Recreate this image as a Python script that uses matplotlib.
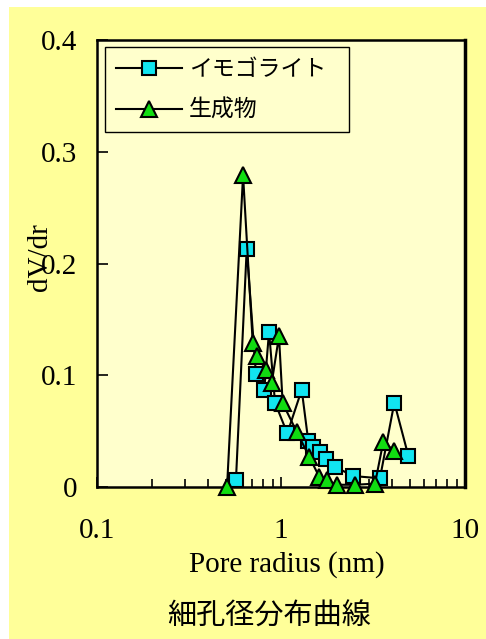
import matplotlib
matplotlib.use("Agg")
from matplotlib import pyplot as plt
from matplotlib.patches import Rectangle
from matplotlib.ticker import LogLocator, FixedLocator, FixedFormatter

# イモゴライト (squares)
radius_imo = [0.569, 0.651, 0.731, 0.811, 0.861, 0.928, 1.082, 1.296, 1.407,
              1.498, 1.62, 1.757, 1.966, 2.47, 3.45, 4.13, 4.92]
dvdr_imo = [0.006, 0.213, 0.101, 0.087, 0.139, 0.0755, 0.048, 0.087, 0.041,
            0.036, 0.031, 0.025, 0.018, 0.0098, 0.0078, 0.0755, 0.028]

# 生成物 (triangles)
radius_prod = [0.509, 0.622, 0.702, 0.743, 0.826, 0.890, 0.975, 1.021, 1.217,
               1.425, 1.615, 1.785, 2.007, 2.525, 3.243, 3.597, 4.113]
dvdr_prod = [0.0, 0.279, 0.129, 0.117, 0.105, 0.093, 0.135, 0.075, 0.0495,
             0.027, 0.009, 0.006, 0.002, 0.002, 0.003, 0.0405, 0.0325]

xticks = [0.1, 1, 10]
xtick_labels = ["0.1", "1", "10"]
yticks = [0, 0.1, 0.2, 0.3, 0.4]
ytick_labels = ["0", "0.1", "0.2", "0.3", "0.4"]

serif = "Liberation Serif"
cjk = ["Noto Sans CJK JP", "DejaVu Sans"]

W, H = 486, 639
fig = plt.figure(figsize=(W / 100, H / 100), dpi=100)
fig.patch.set_facecolor("white")
# fundo amarelo
fig.add_artist(Rectangle((9 / W, 0), 1 - 9 / W, (H - 7) / H, transform=fig.transFigure,
                         facecolor="#FFFF99", edgecolor="none", zorder=-10))

ax = fig.add_axes([97 / W, 1 - 487 / H, (465 - 97) / W, (487 - 40) / H])
ax.set_facecolor("#FFFFCC")

ax.plot(radius_imo, dvdr_imo, color="black", linewidth=1.5, marker="s",
        markersize=10, markerfacecolor="#11E5F0", markeredgecolor="black",
        markeredgewidth=1.5, clip_on=False, label="イモゴライト", zorder=3)
ax.plot(radius_prod, dvdr_prod, color="black", linewidth=1.5, marker="^",
        markersize=12, markerfacecolor="#11DD11", markeredgecolor="black",
        markeredgewidth=1.5, clip_on=False, label="生成物", zorder=4)

ax.set_xscale("log")
ax.set_xlim(0.1, 10)
ax.set_ylim(0, 0.4)

ax.xaxis.set_major_locator(FixedLocator(xticks))
ax.xaxis.set_major_formatter(FixedFormatter(xtick_labels))
ax.xaxis.set_minor_locator(LogLocator(base=10, subs=range(2, 10)))
ax.yaxis.set_major_locator(FixedLocator(yticks))
ax.yaxis.set_major_formatter(FixedFormatter(ytick_labels))

ax.tick_params(axis="x", which="major", direction="in", length=7, width=1.2, pad=22)
ax.tick_params(axis="x", which="minor", direction="in", length=6, width=1.2)
ax.tick_params(axis="y", which="major", direction="in", length=8, width=1.2, pad=14,
               left=True, right=False)
ax.tick_params(top=False, right=False)
for lab in ax.get_xticklabels() + ax.get_yticklabels():
    lab.set_fontfamily(serif)
    lab.set_fontsize(21)

for s in ax.spines.values():
    s.set_linewidth(1.8)
    s.set_color("black")
ax.spines["right"].set_linewidth(2.5)

ax.set_xlabel("Pore radius (nm)", fontsize=21, family=serif, va="center")
ax.xaxis.set_label_coords((287 - 97) / 368, (487 - 565) / 447)
ax.set_ylabel("dV/dr", fontsize=21, family=serif, va="center")
ax.yaxis.set_label_coords((40 - 97) / 368, (487 - 257) / 447)

# legenda: caixa de x=105 a 349 px
leg_x0 = (105 - 97) / 368
leg_w = (349 - 105) / 368
leg = ax.legend(loc="upper left", bbox_to_anchor=(leg_x0, (487 - 47) / 447, leg_w, 0),
                mode="expand", borderaxespad=0, prop={"family": cjk, "size": 16.5},
                fancybox=False, frameon=True, handlelength=2.9, handletextpad=0.3,
                labelspacing=0.78, borderpad=0.47)
leg.get_frame().set_edgecolor("black")
leg.get_frame().set_facecolor("#FFFFCC")
leg.get_frame().set_linewidth(1.0)
leg.get_frame().set_alpha(1)

fig.text(269 / W, 1 - 617 / H, "細孔径分布曲線", fontsize=21, family=cjk,
         ha="center", va="center")

fig.savefig("out.png", dpi=100)
plt.close(fig)
